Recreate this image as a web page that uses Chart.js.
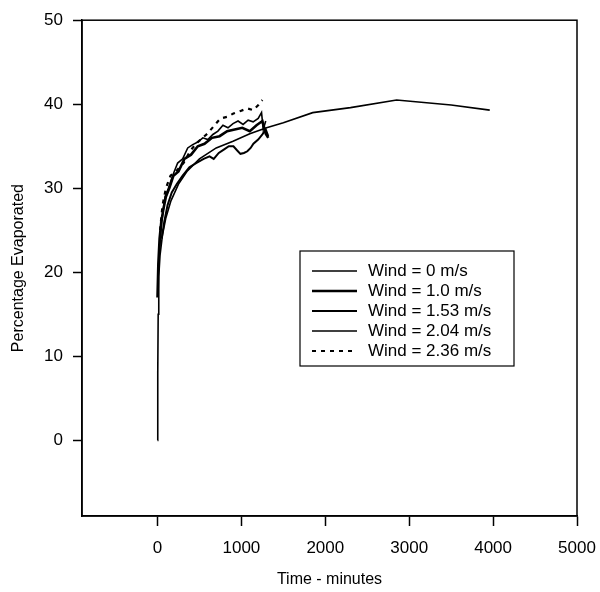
<!DOCTYPE html>
<html>
<head>
<meta charset="utf-8">
<script src="https://cdn.jsdelivr.net/npm/chart.js@4"></script>
<style>
  html, body { margin: 0; padding: 0; background: #fff; }
  #wrap { width: 600px; height: 592px; }
</style>
</head>
<body>
<div id="wrap"><canvas id="evap" width="600" height="592"></canvas></div>
<script>
// series (time in minutes, percentage evaporated)
const wind0T = [0, 3, 8, 15, 30, 60, 100, 160, 250, 350, 500, 700, 900, 1100, 1300, 1500, 1850, 2300, 2850, 3500, 3960];
const wind0V = [0, 8, 15, 19.5, 22, 24.5, 26.5, 28.5, 30.5, 32, 33.5, 34.8, 35.6, 36.5, 37.2, 37.8, 39, 39.6, 40.5, 39.9, 39.3];

const wind10T = [0, 10, 25, 45, 70, 100, 140, 190, 250, 320, 400, 480, 560, 650, 740, 830, 920, 1010, 1100, 1180, 1250, 1290, 1320];
const wind10V = [17, 21, 24, 26, 27.5, 29, 30, 31.5, 32, 33.5, 34, 35, 35.3, 36, 36.2, 36.8, 37, 37.2, 36.8, 37.5, 38, 36.5, 36];

const wind153T = [50, 80, 120, 170, 230, 300, 380, 460, 550, 620, 670, 730, 790, 850, 905, 950, 988, 1030, 1071, 1110, 1143, 1200, 1250, 1290, 1320];
const wind153V = [24, 26, 28, 29.5, 30.5, 31.5, 32.5, 33, 33.5, 33.8, 33.5, 34.2, 34.6, 35, 35, 34.5, 34.1, 34.2, 34.4, 34.8, 35.3, 35.8, 36.4, 37, 36.2];

const wind204T = [20, 50, 90, 130, 180, 240, 300, 360, 420, 480, 540, 600, 660, 720, 780, 840, 900, 960, 1020, 1080, 1140, 1200, 1240, 1260, 1290];
const wind204V = [22, 26, 29, 30, 31.5, 33, 33.5, 34.8, 35.2, 35.5, 36, 35.8, 36.4, 36.8, 37.5, 37.2, 37.7, 38, 37.6, 38.1, 37.9, 38.3, 39, 37, 38];

const wind236T = [30, 60, 100, 155, 220, 310, 393, 480, 595, 680, 750, 830, 905, 990, 1071, 1140, 1202, 1250];
const wind236V = [25, 28, 30, 31.5, 32, 33, 34.5, 35.5, 36.5, 37.5, 38.3, 38.5, 38.9, 39.2, 39.5, 39.3, 39.9, 40.5];

const seriesLabels = ['Wind = 0 m/s', 'Wind = 1.0 m/s', 'Wind = 1.53 m/s', 'Wind = 2.04 m/s', 'Wind = 2.36 m/s'];
const xTicks = [0, 1000, 2000, 3000, 4000, 5000];
const yTicks = [0, 10, 20, 30, 40, 50];

const FONT = 'Arial, "Liberation Sans", sans-serif';

function pts(ts, vs) {
    return ts.map((t, i) => ({ x: t, y: vs[i] }));
}

// frame round the plot area
const frame = {
    id: 'frame',
    afterDraw(chart) {
        const a = chart.chartArea, ctx = chart.ctx;
        ctx.save();
        ctx.strokeStyle = '#000';
        ctx.lineWidth = 1.5;
        ctx.strokeRect(a.left, a.top, a.right - a.left, a.bottom - a.top);
        ctx.restore();
    }
};

// boxed legend inside the plot, like the original
const boxLegend = {
    id: 'boxLegend',
    afterDraw(chart) {
        const ctx = chart.ctx;
        const x0 = 300, y0 = 251, w = 214, h = 115;
        ctx.save();
        ctx.fillStyle = '#fff';
        ctx.fillRect(x0, y0, w, h);
        ctx.strokeStyle = '#000';
        ctx.lineWidth = 1.2;
        ctx.strokeRect(x0, y0, w, h);
        ctx.font = '17px ' + FONT;
        ctx.textBaseline = 'middle';
        ctx.fillStyle = '#000';
        chart.data.datasets.forEach((ds, i) => {
            const y = y0 + 20 + i * 20;
            ctx.beginPath();
            ctx.setLineDash(ds.borderDash || []);
            ctx.lineWidth = ds.borderWidth;
            ctx.moveTo(x0 + 12, y);
            ctx.lineTo(x0 + 57, y);
            ctx.stroke();
            ctx.setLineDash([]);
            ctx.fillText(ds.label, x0 + 68, y);
        });
        ctx.restore();
    }
};

new Chart(document.getElementById('evap').getContext('2d'), {
    type: 'line',
    data: {
        datasets: [{
            label: seriesLabels[0],
            data: pts(wind0T, wind0V),
            borderColor: '#000',
            borderWidth: 1.6
        }, {
            label: seriesLabels[1],
            data: pts(wind10T, wind10V),
            borderColor: '#000',
            borderWidth: 2.6
        }, {
            label: seriesLabels[2],
            data: pts(wind153T, wind153V),
            borderColor: '#000',
            borderWidth: 2
        }, {
            label: seriesLabels[3],
            data: pts(wind204T, wind204V),
            borderColor: '#000',
            borderWidth: 1.6
        }, {
            label: seriesLabels[4],
            data: pts(wind236T, wind236V),
            borderColor: '#000',
            borderWidth: 2.2,
            borderDash: [4, 5]
        }]
    },
    options: {
        responsive: false,
        animation: false,
        layout: { padding: { left: 0, right: 23, top: 18, bottom: 0 } },
        elements: { point: { radius: 0 }, line: { tension: 0, fill: false } },
        plugins: { legend: { display: false }, tooltip: { enabled: false } },
        scales: {
            x: {
                type: 'linear',
                min: -900,
                max: 5000,
                afterBuildTicks: s => { s.ticks = xTicks.map(v => ({ value: v })); },
                afterFit: s => { s.height = 76; s.paddingRight = 0; },
                grid: { drawOnChartArea: false, tickLength: 10, color: '#000', tickWidth: 1.5 },
                border: { display: true, color: '#000', width: 1.5 },
                ticks: {
                    color: '#000', padding: 12, maxRotation: 0,
                    font: { family: FONT, size: 17 },
                    callback: v => String(v)
                },
                title: {
                    display: true,
                    text: 'Time - minutes',
                    color: '#000',
                    padding: { top: 0, bottom: 3 },
                    font: { family: FONT, size: 16 }
                }
            },
            y: {
                type: 'linear',
                min: -9,
                max: 50,
                afterBuildTicks: s => { s.ticks = yTicks.map(v => ({ value: v })); },
                afterFit: s => { s.width = 82; },
                grid: { drawOnChartArea: false, tickLength: 9, color: '#000', tickWidth: 1.5 },
                border: { display: true, color: '#000', width: 1.5 },
                ticks: { color: '#000', padding: 10, font: { family: FONT, size: 17 } },
                title: {
                    display: true,
                    text: 'Percentage Evaporated',
                    color: '#000',
                    padding: { top: 9, bottom: 0 },
                    font: { family: FONT, size: 16 }
                }
            }
        }
    },
    plugins: [frame, boxLegend]
});
</script>
</body>
</html>
